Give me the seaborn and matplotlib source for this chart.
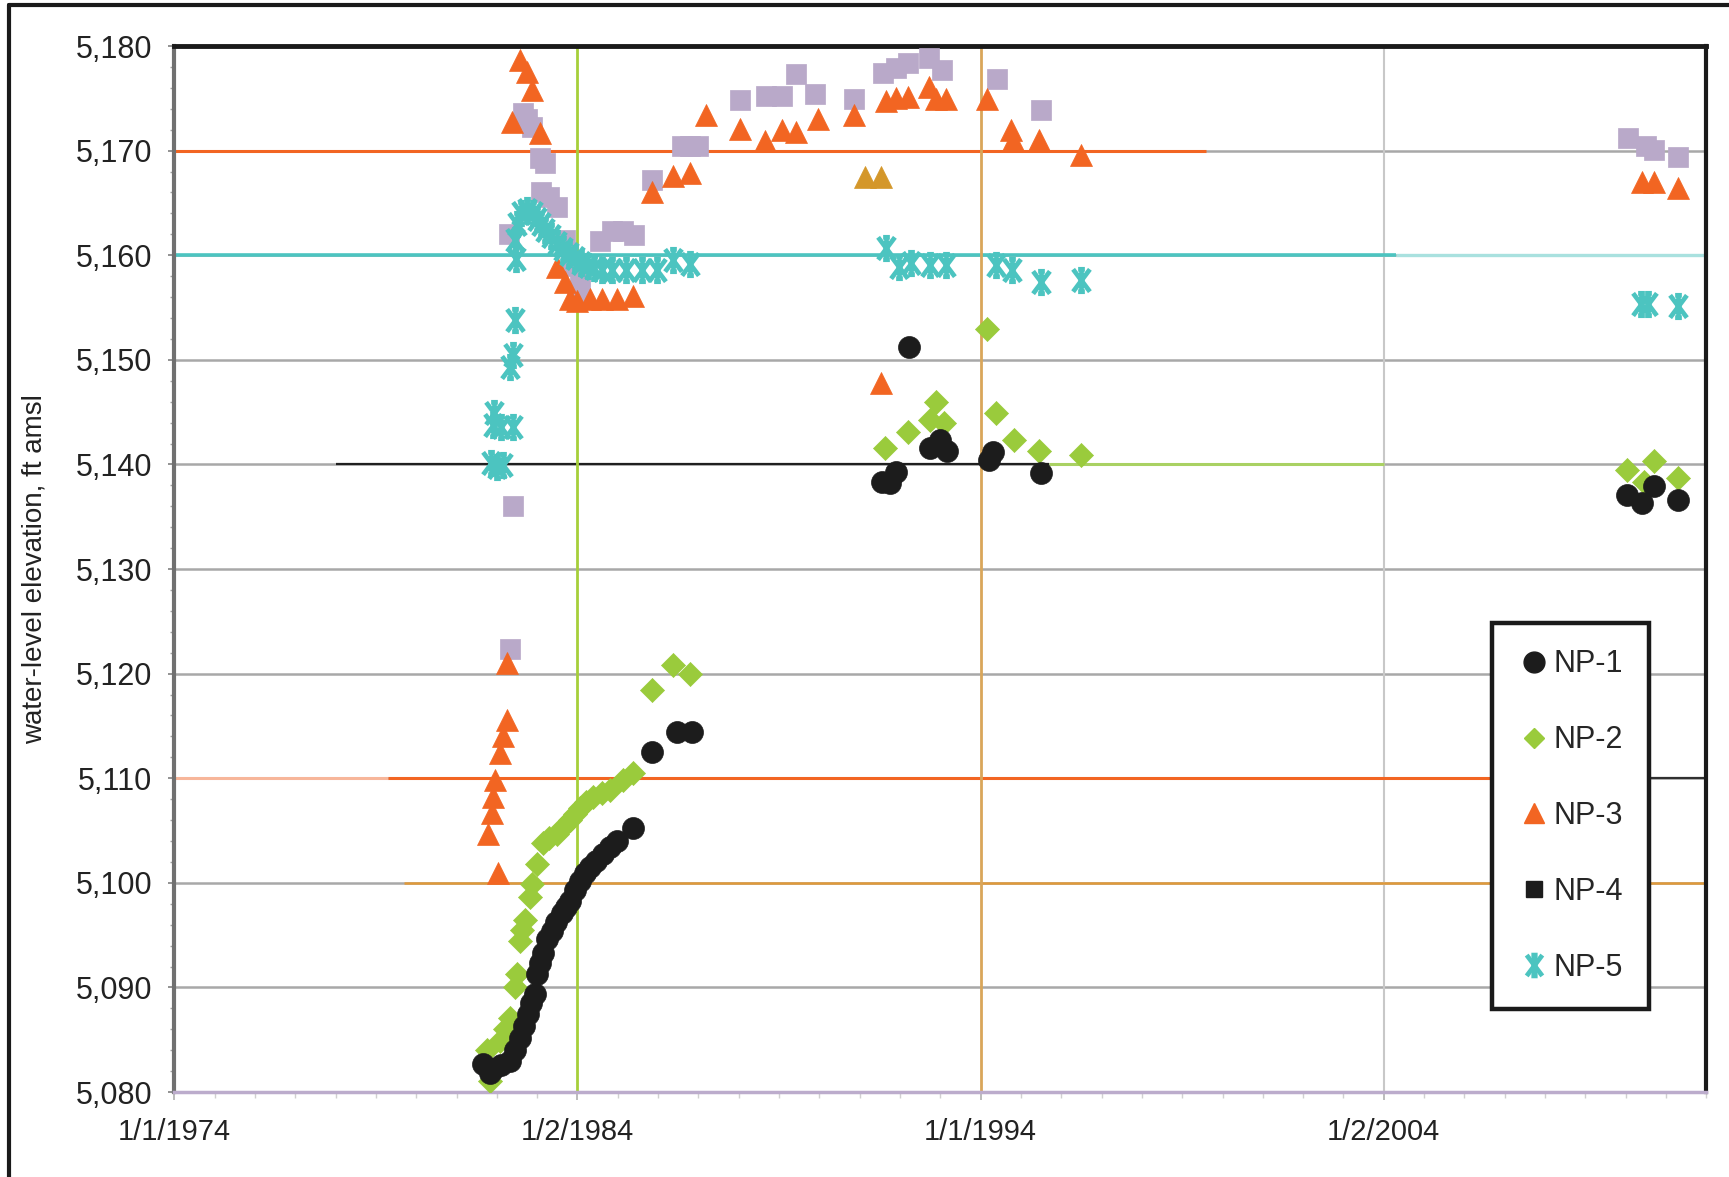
import matplotlib
matplotlib.use("Agg")
import matplotlib.pyplot as plt
import seaborn as sns
from matplotlib.path import Path
from matplotlib.lines import Line2D
from matplotlib.ticker import FuncFormatter, MultipleLocator, FixedLocator

sns.set_theme(style="white")
plt.rcParams['font.family'] = ['Liberation Sans', 'DejaVu Sans']

# ---------------- data (decimal year, water-level elevation ft amsl) ----------------
np1_year = [1981.65, 1981.82, 1981.9, 1982.1, 1982.32, 1982.45, 1982.57, 1982.67, 1982.77, 1982.86,
            1982.94, 1983.0, 1983.07, 1983.14, 1983.25, 1983.36, 1983.48, 1983.61, 1983.71, 1983.81,
            1983.93, 1984.06, 1984.18, 1984.3, 1984.46, 1984.63, 1984.8, 1984.97, 1985.37,
            1985.86, 1986.46, 1986.83,
            1991.55, 1991.75, 1991.9, 1992.23, 1992.75, 1993.0, 1993.17, 1994.2, 1994.31, 1995.49,
            2010.03, 2010.4, 2010.7, 2011.3]
np1_elev = [5082.7, 5081.8, 5082.2, 5082.6, 5083.0, 5084.0, 5085.2, 5086.3, 5087.5, 5088.5,
            5089.4, 5091.3, 5092.3, 5093.3, 5094.6, 5095.4, 5096.3, 5097.1, 5097.7, 5098.3,
            5099.3, 5100.2, 5100.9, 5101.5, 5102.1, 5102.8, 5103.4, 5104.0, 5105.2,
            5112.5, 5114.4, 5114.4,
            5138.3, 5138.2, 5139.3, 5151.2, 5141.6, 5142.3, 5141.3, 5140.4, 5141.2, 5139.2,
            5137.1, 5136.3, 5137.9, 5136.6]

np2_year = [1981.75, 1981.82, 1982.07, 1982.2, 1982.32, 1982.45, 1982.5, 1982.57, 1982.63, 1982.69,
            1982.82, 1982.87, 1982.99, 1983.14, 1983.3, 1983.49, 1983.65, 1983.81, 1983.95, 1984.06,
            1984.22, 1984.38, 1984.6, 1984.8, 1985.13, 1985.37, 1985.86, 1986.36, 1986.78,
            1991.62, 1992.2, 1992.75, 1992.9, 1993.1, 1994.16, 1994.37, 1994.83, 1995.46, 1996.5,
            2010.03, 2010.45, 2010.7, 2011.29]
np2_elev = [5084.0, 5081.1, 5084.9, 5086.0, 5087.1, 5090.0, 5091.3, 5094.4, 5095.5, 5096.4,
            5098.6, 5099.9, 5101.8, 5103.8, 5104.3, 5104.7, 5105.3, 5106.0, 5106.6, 5107.2,
            5107.7, 5108.2, 5108.6, 5108.9, 5109.8, 5110.5, 5118.4, 5120.8, 5120.0,
            5141.6, 5143.1, 5144.2, 5146.0, 5144.0, 5152.9, 5144.9, 5142.3, 5141.3, 5140.9,
            5139.5, 5138.3, 5140.3, 5138.7]

np3_year = [1981.77, 1981.88, 1981.9, 1981.95, 1982.07, 1982.15, 1982.25, 1982.02, 1982.25, 1982.37,
            1982.57, 1982.75, 1982.87, 1983.06, 1983.5, 1983.7, 1983.81, 1984.0, 1984.3, 1984.6,
            1984.97, 1985.37, 1985.86, 1986.36, 1986.78, 1987.2, 1988.04, 1988.64, 1989.08, 1989.41,
            1989.96, 1990.87, 1991.54, 1991.66, 1991.9, 1992.2, 1992.73, 1992.9, 1993.15, 1994.16,
            1994.76, 1994.8, 1995.46, 1996.5, 2010.4, 2010.7, 2011.3]
np3_elev = [5104.7, 5106.7, 5108.2, 5109.8, 5112.4, 5114.0, 5115.6, 5100.9, 5121.0, 5172.7,
            5178.7, 5177.5, 5175.8, 5171.7, 5158.9, 5157.4, 5155.8, 5155.6, 5155.8, 5155.8,
            5155.8, 5156.1, 5166.0, 5167.6, 5167.9, 5173.4, 5172.1, 5170.9, 5172.0, 5171.8,
            5173.0, 5173.4, 5147.8, 5174.7, 5175.0, 5175.1, 5176.1, 5174.9, 5174.9, 5174.9,
            5172.0, 5171.0, 5171.0, 5169.6, 5167.0, 5167.0, 5166.4]
np3_gold_year = [1991.12, 1991.54]
np3_gold_elev = [5167.5, 5167.5]

np4_year = [1982.32, 1982.4, 1982.3, 1982.65, 1982.75, 1982.87, 1983.06, 1983.2, 1983.1, 1983.3,
            1983.5, 1983.7, 1983.85, 1984.06, 1984.0, 1984.57, 1984.85, 1985.12, 1985.39, 1985.86,
            1986.6, 1986.8, 1987.0, 1988.04, 1988.67, 1989.08, 1989.41, 1989.9, 1990.87, 1991.57,
            1991.9, 1992.2, 1992.73, 1993.05, 1994.41, 1995.5, 2010.05, 2010.5, 2010.7, 2011.3]
np4_elev = [5122.4, 5136.0, 5162.0, 5173.6, 5173.0, 5172.3, 5169.3, 5168.8, 5166.0, 5165.6,
            5164.6, 5161.5, 5159.0, 5157.3, 5155.7, 5161.4, 5162.3, 5162.3, 5161.9, 5167.2,
            5170.4, 5170.4, 5170.4, 5174.8, 5175.2, 5175.2, 5177.3, 5175.4, 5174.9, 5177.4,
            5177.9, 5178.4, 5178.9, 5177.7, 5176.8, 5173.9, 5171.2, 5170.4, 5170.1, 5169.4]

np5_year = [1981.93, 1981.9, 1982.1, 1982.4, 1981.85, 1982.0, 1982.15, 1982.33, 1982.39, 1982.44,
            1982.47, 1982.45, 1982.5, 1982.6, 1982.75, 1982.9, 1983.0, 1983.1, 1983.2, 1983.35,
            1983.5, 1983.65, 1983.8, 1983.95, 1984.1, 1984.25, 1984.4, 1984.6, 1984.85, 1985.2,
            1985.6, 1985.97, 1986.36, 1986.78, 1991.66, 1991.98, 1992.28, 1992.75, 1993.15, 1994.39,
            1994.78, 1995.5, 1996.5, 2010.37, 2010.55, 2011.3]
np5_elev = [5144.9, 5143.8, 5143.6, 5143.6, 5140.1, 5139.8, 5139.9, 5149.3, 5150.5, 5153.8,
            5159.6, 5161.5, 5163.0, 5164.0, 5164.3, 5164.0, 5163.5, 5163.0, 5162.4, 5161.8,
            5161.2, 5160.6, 5160.1, 5159.7, 5159.3, 5159.0, 5158.8, 5158.6, 5158.6, 5158.6,
            5158.6, 5158.6, 5159.5, 5159.2, 5160.7, 5158.9, 5159.3, 5159.1, 5159.1, 5159.1,
            5158.6, 5157.4, 5157.6, 5155.3, 5155.3, 5155.1]

series_labels = ["NP-1", "NP-2", "NP-3", "NP-4", "NP-5"]
x_ticks = [1974, 1984, 1994, 2004]
x_tick_labels = ["1/1/1974", "1/2/1984", "1/1/1994", "1/2/2004"]
y_ticks = [5080, 5090, 5100, 5110, 5120, 5130, 5140, 5150, 5160, 5170, 5180]

# ---------------- styles ----------------
C_BLACK = "#1c1c1c"
C_GREEN = "#9acb3c"
C_ORANGE = "#f26522"
C_LAV = "#b9a9c9"
C_CYAN = "#4cc4c0"
C_GOLD = "#d4972a"

star_path = Path([(-0.75, -1), (0.75, 1), (-0.75, 1), (0.75, -1), (0, -1), (0, 1),
                  (-0.3, 1), (0.3, 1), (-0.3, -1), (0.3, -1)],
                 [Path.MOVETO, Path.LINETO, Path.MOVETO, Path.LINETO, Path.MOVETO, Path.LINETO,
                  Path.MOVETO, Path.LINETO, Path.MOVETO, Path.LINETO])

fig = plt.figure(figsize=(17.29, 11.77), dpi=100)
ax = fig.add_axes([0.1008, 0.0722, 0.8861, 0.8887])

X0, X1 = 1974.0, 2012.0
ax.set_xlim(X0, X1)
ax.set_ylim(5080, 5180)

# gridlines
for yv in y_ticks[1:-1]:
    ax.axhline(yv, color="#a8a8a8", lw=1.8, zorder=1)
ax.axvline(2004, color="#c8c8c8", lw=1.5, zorder=1)

# coloured reference lines
ax.hlines(5170, X0, 1999.6, color=C_ORANGE, lw=2.2, zorder=2)
ax.hlines(5160, X0, 2004.3, color=C_CYAN, lw=2.6, zorder=2)
ax.hlines(5160, 2004.3, X1, color="#a9e1df", lw=2.4, zorder=2)
ax.hlines(5140, 1978.0, 1995.7, color="#202020", lw=1.6, zorder=2)
ax.hlines(5140, 1995.7, 2004.0, color="#a9d163", lw=2.2, zorder=2)
ax.hlines(5110, X0, 1979.3, color="#f7b69a", lw=2.2, zorder=2)
ax.hlines(5110, 1979.3, 2008.5, color=C_ORANGE, lw=2.2, zorder=2)
ax.hlines(5110, 2008.5, X1, color="#303030", lw=1.6, zorder=2)
ax.hlines(5100, 1979.7, X1, color="#e09a3a", lw=1.8, zorder=2)
ax.axvline(1984, color="#a6cf3a", lw=2.0, zorder=2)
ax.axvline(1994, color="#d9a65a", lw=2.0, zorder=2)

# data points
sns.scatterplot(x=np3_year, y=np3_elev, ax=ax, marker="^", s=250, color=C_ORANGE,
                edgecolor=C_ORANGE, linewidth=0.5, legend=False, zorder=4)
sns.scatterplot(x=np3_gold_year, y=np3_gold_elev, ax=ax, marker="^", s=250, color=C_GOLD,
                edgecolor=C_GOLD, linewidth=0.5, legend=False, zorder=4)
sns.scatterplot(x=np4_year, y=np4_elev, ax=ax, marker="s", s=200, color=C_LAV,
                edgecolor=C_LAV, linewidth=0.5, legend=False, zorder=3)
sns.scatterplot(x=np5_year, y=np5_elev, ax=ax, marker=star_path, s=260, color=C_CYAN,
                edgecolor=C_CYAN, linewidth=3.4, legend=False, zorder=5)
sns.scatterplot(x=np2_year, y=np2_elev, ax=ax, marker="D", s=150, color=C_GREEN,
                edgecolor=C_GREEN, linewidth=0.5, legend=False, zorder=4)
sns.scatterplot(x=np1_year, y=np1_elev, ax=ax, marker="o", s=250, color=C_BLACK,
                edgecolor=C_BLACK, linewidth=0.5, legend=False, zorder=4)

# axes styling
ax.xaxis.set_major_locator(FixedLocator(x_ticks))
ax.set_xticklabels(x_tick_labels)
ax.xaxis.set_minor_locator(MultipleLocator(1))
ax.yaxis.set_major_locator(FixedLocator(y_ticks))
ax.yaxis.set_minor_locator(MultipleLocator(2))
ax.yaxis.set_major_formatter(FuncFormatter(lambda v, p: f"{int(round(v)):,}"))
ax.tick_params(axis="y", which="major", left=True, length=4, width=1.2, color="#808080",
               labelsize=22, pad=12, labelcolor="#222222")
ax.tick_params(axis="y", which="minor", left=True, length=3, width=1.0, color="#a0a0a0")
ax.tick_params(axis="x", which="major", bottom=True, length=6, width=1.2, color="#b0b0b0",
               labelsize=21, pad=13, labelcolor="#222222")
ax.tick_params(axis="x", which="minor", bottom=True, length=4, width=1.0, color="#d0d0d0")

ax.spines["left"].set_color("#707070")
ax.spines["left"].set_linewidth(3)
ax.spines["top"].set_color("#1a1a1a")
ax.spines["top"].set_linewidth(3.5)
ax.spines["right"].set_color("#1a1a1a")
ax.spines["right"].set_linewidth(3)
ax.spines["bottom"].set_color("#bcaccc")
ax.spines["bottom"].set_linewidth(2.5)

ax.set_xlabel("")
ax.set_ylabel("water-level elevation, ft amsl", fontsize=20, color="#222222")
ax.yaxis.set_label_coords(-0.083, 0.5)

# legend
handles = [
    Line2D([], [], linestyle="None", marker="o", markersize=15, markerfacecolor=C_BLACK, markeredgecolor=C_BLACK),
    Line2D([], [], linestyle="None", marker="D", markersize=10, markerfacecolor=C_GREEN, markeredgecolor=C_GREEN),
    Line2D([], [], linestyle="None", marker="^", markersize=15, markerfacecolor=C_ORANGE, markeredgecolor=C_ORANGE),
    Line2D([], [], linestyle="None", marker="s", markersize=12, markerfacecolor=C_BLACK, markeredgecolor=C_BLACK),
    Line2D([], [], linestyle="None", marker=star_path, markersize=15, markerfacecolor=C_CYAN,
           markeredgecolor=C_CYAN, markeredgewidth=3.4),
]
leg = ax.legend(handles, series_labels, loc="upper left", bbox_to_anchor=(0.860, 0.448),
                borderaxespad=0, frameon=True, fancybox=False, framealpha=1, fontsize=22,
                handlelength=1.05, handletextpad=0.12, labelspacing=1.50, borderpad=0.85,
                edgecolor="#1a1a1a")
leg.get_frame().set_linewidth(3.2)
leg.set_zorder(10)

# outer frame of the figure
fig.add_artist(Line2D([0.0052, 0.0052], [0.0, 0.9955], transform=fig.transFigure, color="#1a1a1a", lw=3))
fig.add_artist(Line2D([0.0052, 1.0], [0.9955, 0.9955], transform=fig.transFigure, color="#1a1a1a", lw=3))

fig.savefig("out.png", dpi=100, facecolor="white")
